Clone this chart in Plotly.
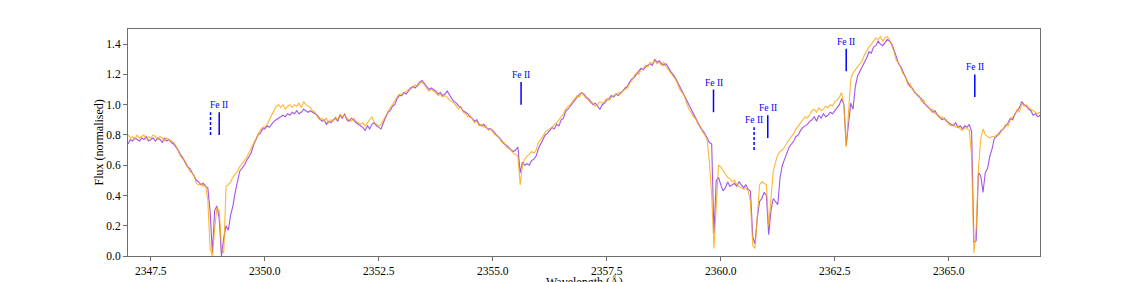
import numpy as np
import plotly.graph_objects as go

# ---------------- data ----------------
# wavelength grid (Angstrom), 0.05 A sampling
wave = np.round(np.arange(2347.0, 2367.0001, 0.05), 2)

purple_flux = (
    [0.74,0.77,0.76,0.78,0.77,0.76,0.78,0.77,0.79,0.76,0.77,0.78,0.76,0.78,0.77,0.75,0.78,0.76,0.77,0.75]  # 2347
  + [0.74,0.72,0.70,0.67,0.65,0.62,0.59,0.58,0.55,0.52,0.50,0.49,0.47,0.48,0.46,0.45,0.30,0.02,0.30,0.33]  # 2348
  + [0.25,0.00,0.12,0.20,0.17,0.27,0.33,0.42,0.50,0.56,0.58,0.60,0.63,0.66,0.68,0.73,0.77,0.80,0.81,0.84]  # 2349
  + [0.84,0.86,0.85,0.87,0.89,0.90,0.91,0.92,0.93,0.92,0.94,0.93,0.95,0.94,0.96,0.94,0.95,0.97,0.96,0.95]  # 2350
  + [0.96,0.95,0.94,0.93,0.91,0.89,0.90,0.87,0.89,0.88,0.90,0.91,0.89,0.93,0.91,0.94,0.90,0.89,0.91,0.90]  # 2351
  + [0.88,0.87,0.86,0.85,0.83,0.86,0.84,0.87,0.88,0.86,0.85,0.84,0.88,0.92,0.95,0.96,0.99,1.00,1.04,1.06]  # 2352
  + [1.06,1.08,1.07,1.09,1.11,1.12,1.11,1.13,1.15,1.16,1.14,1.12,1.10,1.11,1.10,1.09,1.07,1.08,1.06,1.07]  # 2353
  + [1.09,1.06,1.04,1.02,1.01,0.99,0.98,0.96,0.95,0.94,0.92,0.91,0.89,0.90,0.87,0.86,0.87,0.85,0.84,0.84]  # 2354
  + [0.83,0.81,0.79,0.78,0.76,0.74,0.73,0.72,0.70,0.69,0.70,0.72,0.55,0.62,0.60,0.61,0.60,0.63,0.64,0.66]  # 2355
  + [0.71,0.74,0.77,0.80,0.81,0.83,0.85,0.84,0.87,0.86,0.90,0.91,0.96,0.97,0.99,1.01,1.03,1.05,1.07,1.08]  # 2356
  + [1.07,1.05,1.04,1.02,1.00,1.01,0.99,0.97,1.00,1.01,1.03,1.04,1.06,1.05,1.07,1.06,1.08,1.09,1.11,1.12]  # 2357
  + [1.15,1.17,1.18,1.20,1.22,1.24,1.23,1.25,1.26,1.27,1.26,1.30,1.28,1.29,1.27,1.26,1.27,1.24,1.22,1.20]  # 2358
  + [1.18,1.15,1.12,1.09,1.05,1.03,0.99,0.96,0.93,0.90,0.88,0.85,0.83,0.81,0.78,0.75,0.74,0.15,0.50,0.52]  # 2359
  + [0.47,0.43,0.45,0.49,0.46,0.47,0.48,0.46,0.49,0.47,0.45,0.47,0.44,0.43,0.13,0.08,0.25,0.36,0.38,0.42]  # 2360
  + [0.40,0.14,0.30,0.38,0.36,0.34,0.52,0.60,0.64,0.68,0.72,0.74,0.76,0.79,0.80,0.83,0.85,0.86,0.87,0.89]  # 2361
  + [0.90,0.92,0.89,0.93,0.91,0.94,0.92,0.93,0.95,0.94,0.96,0.98,1.00,1.04,1.00,0.73,0.86,1.01,0.97,1.12]  # 2362
  + [1.19,1.22,1.24,1.28,1.31,1.35,1.34,1.38,1.39,1.42,1.40,1.39,1.41,1.43,1.42,1.40,1.36,1.32,1.27,1.25]  # 2363
  + [1.21,1.18,1.15,1.12,1.11,1.08,1.07,1.05,1.04,1.01,1.00,0.98,0.97,0.95,0.96,0.93,0.92,0.90,0.91,0.89]  # 2364
  + [0.88,0.87,0.86,0.88,0.85,0.86,0.84,0.86,0.85,0.87,0.82,0.09,0.10,0.55,0.53,0.42,0.55,0.58,0.66,0.71]  # 2365
  + [0.78,0.79,0.81,0.83,0.84,0.86,0.88,0.91,0.90,0.94,0.96,0.98,1.02,1.00,0.99,0.97,0.96,0.93,0.94,0.92,0.93]  # 2366-2367
)

orange_flux = (
    [0.80,0.78,0.79,0.77,0.80,0.78,0.79,0.80,0.77,0.79,0.78,0.80,0.79,0.77,0.79,0.78,0.76,0.78,0.77,0.76]  # 2347
  + [0.75,0.73,0.69,0.66,0.64,0.63,0.60,0.56,0.55,0.53,0.48,0.47,0.48,0.46,0.47,0.37,0.05,0.00,0.18,0.32]  # 2348
  + [0.30,0.05,0.02,0.46,0.47,0.49,0.52,0.54,0.56,0.59,0.61,0.63,0.65,0.68,0.71,0.74,0.78,0.81,0.83,0.85]  # 2349
  + [0.85,0.87,0.90,0.92,0.95,0.99,1.00,0.98,1.00,0.97,0.99,1.00,0.98,1.00,0.99,1.01,0.98,1.02,1.00,0.99]  # 2350
  + [0.98,0.96,0.95,0.92,0.90,0.91,0.89,0.91,0.88,0.90,0.89,0.92,0.90,0.94,0.92,0.93,0.91,0.90,0.89,0.91]  # 2351
  + [0.89,0.88,0.87,0.88,0.86,0.88,0.90,0.92,0.88,0.87,0.86,0.87,0.90,0.93,0.96,0.98,1.00,1.03,1.05,1.07]  # 2352
  + [1.07,1.07,1.09,1.10,1.10,1.12,1.13,1.12,1.14,1.15,1.13,1.11,1.09,1.10,1.09,1.08,1.06,1.07,1.05,1.06]  # 2353
  + [1.05,1.03,1.02,1.01,0.99,0.97,0.99,0.95,0.94,0.92,0.93,0.90,0.88,0.89,0.86,0.87,0.85,0.86,0.83,0.84]  # 2354
  + [0.82,0.80,0.80,0.77,0.75,0.75,0.72,0.71,0.70,0.68,0.67,0.66,0.47,0.60,0.64,0.66,0.67,0.69,0.68,0.70]  # 2355
  + [0.75,0.77,0.79,0.82,0.83,0.84,0.85,0.87,0.88,0.90,0.92,0.94,0.97,0.99,1.00,1.02,1.04,1.06,1.05,1.08]  # 2356
  + [1.06,1.04,1.03,1.01,1.01,0.99,1.00,1.02,1.01,1.02,1.04,1.03,1.05,1.06,1.07,1.08,1.07,1.09,1.10,1.11]  # 2357
  + [1.14,1.16,1.19,1.21,1.20,1.23,1.24,1.26,1.25,1.28,1.27,1.29,1.27,1.28,1.26,1.28,1.25,1.23,1.21,1.19]  # 2358
  + [1.17,1.14,1.10,1.08,1.06,1.01,0.97,0.95,0.92,0.91,0.87,0.86,0.82,0.80,0.77,0.62,0.40,0.05,0.30,0.60]  # 2359
  + [0.59,0.56,0.54,0.52,0.51,0.49,0.50,0.47,0.46,0.45,0.44,0.45,0.43,0.36,0.07,0.05,0.30,0.47,0.49,0.48]  # 2360
  + [0.47,0.20,0.40,0.56,0.62,0.67,0.69,0.70,0.72,0.75,0.77,0.79,0.81,0.84,0.86,0.88,0.90,0.92,0.91,0.94]  # 2361
  + [0.96,0.97,0.95,0.98,0.96,0.97,0.99,0.98,1.00,0.99,1.02,1.03,1.05,1.08,0.99,0.72,0.95,1.17,1.21,1.23]  # 2362
  + [1.25,1.27,1.29,1.33,1.36,1.38,1.40,1.42,1.44,1.43,1.45,1.42,1.44,1.45,1.43,1.39,1.35,1.29,1.28,1.24]  # 2363
  + [1.20,1.19,1.13,1.14,1.10,1.09,1.06,1.06,1.02,1.03,0.99,0.99,0.96,0.97,0.94,0.94,0.91,0.92,0.90,0.90]  # 2364
  + [0.87,0.86,0.87,0.85,0.86,0.84,0.83,0.85,0.84,0.83,0.66,0.02,0.18,0.58,0.77,0.84,0.80,0.79,0.78,0.79]  # 2365
  + [0.79,0.80,0.80,0.82,0.85,0.87,0.86,0.90,0.92,0.93,0.97,0.95,1.01,0.99,1.00,0.98,0.97,0.96,0.95,0.94,0.95]  # 2366-2367
)

# Fe II line markers
fe_wave   = [2348.81, 2349.00, 2355.62, 2359.84, 2360.73, 2361.03, 2362.75, 2365.57]
fe_bottom = [0.80, 0.80, 1.00, 0.95, 0.70, 0.78, 1.22, 1.05]
fe_dashed = [True, False, False, False, True, False, False, False]
fe_label  = [False, True, True, True, True, True, True, True]
fe_text = "Fe II"
bar_len = 0.15

x_ticks = [2347.5, 2350.0, 2352.5, 2355.0, 2357.5, 2360.0, 2362.5, 2365.0]
y_ticks = [0.0, 0.2, 0.4, 0.6, 0.8, 1.0, 1.2, 1.4]

assert len(purple_flux) == len(wave) == len(orange_flux)

FONT = "Liberation Serif, Times New Roman, serif"
AXC = "#6e6e6e"

fig = go.Figure()
fig.add_trace(go.Scatter(x=wave, y=purple_flux, mode="lines",
                         line=dict(color="rgba(138,43,226,0.8)", width=1.1),
                         showlegend=False, hoverinfo="skip"))
fig.add_trace(go.Scatter(x=wave, y=orange_flux, mode="lines",
                         line=dict(color="rgba(255,165,0,0.8)", width=1.1),
                         showlegend=False, hoverinfo="skip"))

for w, b, d, lab in zip(fe_wave, fe_bottom, fe_dashed, fe_label):
    fig.add_trace(go.Scatter(x=[w, w], y=[b, b + bar_len], mode="lines",
                             line=dict(color="blue", width=1.5,
                                       dash="3px,2px" if d else "solid"),
                             showlegend=False, hoverinfo="skip"))
    if lab:
        fig.add_annotation(x=w, y=b + bar_len, text=fe_text, showarrow=False,
                           xanchor="center", yanchor="bottom", yshift=0,
                           font=dict(family=FONT, size=9.5, color="blue"))

# axis titles as annotations (matplotlib-like placement)
fig.add_annotation(xref="paper", yref="paper", x=0.5, y=0, yshift=-17,
                   xanchor="center", yanchor="top", showarrow=False,
                   text="Wavelength (Å)", font=dict(family=FONT, size=12, color="black"))
fig.add_annotation(xref="paper", yref="paper", x=0, y=0.5, xshift=-30,
                   xanchor="center", yanchor="middle", showarrow=False, textangle=-90,
                   text="Flux (normalised)", font=dict(family=FONT, size=12, color="black"))

axis_common = dict(showgrid=False, zeroline=False, showline=True, mirror=True,
                   linecolor=AXC, linewidth=1, ticks="outside", ticklen=4,
                   tickcolor=AXC, tickwidth=1, automargin=False,
                   tickfont=dict(family=FONT, size=11.5, color="black"))

fig.update_layout(
    width=1140, height=282,
    margin=dict(l=128, r=100, t=29, b=26, autoexpand=False),
    paper_bgcolor="white", plot_bgcolor="white",
    xaxis=dict(range=[2347.0, 2367.0], tickvals=x_ticks,
               ticktext=[f"{v:.1f}" for v in x_ticks], **axis_common),
    yaxis=dict(range=[0.0, 1.5], tickvals=y_ticks,
               ticktext=[f"{v:.1f}" for v in y_ticks], **axis_common),
)

fig.write_html("out.html", config={"displayModeBar": False},
               post_script="document.body.style.margin='0';document.body.style.overflow='hidden';")
